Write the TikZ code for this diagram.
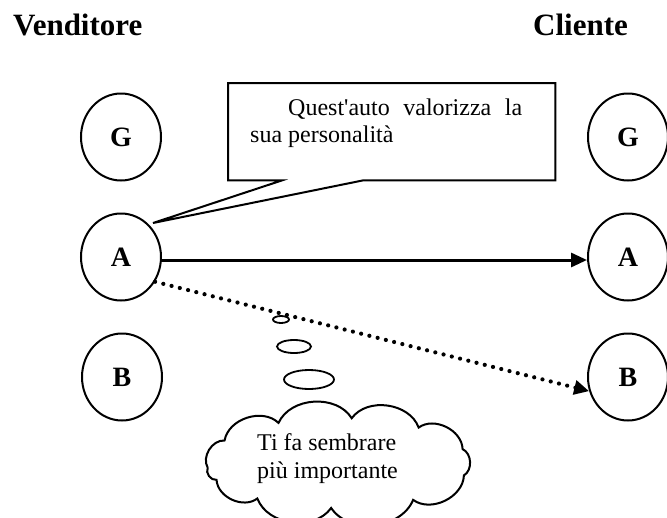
\documentclass[tikz,border=0pt]{standalone}
\usepackage{fontspec}
\setmainfont{Liberation Serif}
\usetikzlibrary{shapes.geometric,arrows.meta}

\begin{document}
\begin{tikzpicture}[x=1pt,y=-1pt,
  party/.style={draw,line width=2pt,ellipse,minimum width=80pt,minimum height=87pt,
    inner sep=0pt,font=\fontsize{28}{32}\selectfont\bfseries},
  sidetitle/.style={anchor=base west,inner sep=0pt,font=\fontsize{31}{36}\selectfont\bfseries},
  bodytext/.style={inner sep=0pt,font=\fontsize{24}{27}\selectfont},
  spoken/.style={line width=3pt,-{Triangle[length=16pt,width=14pt]}},
  implied/.style={line width=4.2pt,line cap=round,dash pattern=on 0pt off 8.5pt,
    -{Triangle[length=15pt,width=14pt]}},
  outline/.style={line width=2pt,line join=miter},
  bubble/.style={line width=1.8pt}
]
\useasboundingbox (0,0) rectangle (667,517);
\clip (0,0) rectangle (667,517);

% column headings
\node[sidetitle] (vend) at (13,35) {Venditore};
\node[sidetitle] (cli) at (533,35) {Cliente};

% ego states of the seller
\node[party] (vG) at (121,137) {G};
\node[party] (vA) at (121,257) {A};
\node[party] (vB) at (122,377) {B};

% ego states of the customer
\node[party] (cG) at (628,137) {G};
\node[party] (cA) at (628,257) {A};
\node[party] (cB) at (628,377) {B};

% open message: Adult to Adult
\draw[spoken] ([yshift=-3pt]vA.east) -- ([yshift=-3pt]cA.west);

% hidden message: Adult to Child
\draw[implied] (vA.-36) -- (cB.200);

% speech balloon
\node[minimum width=327pt,minimum height=97pt,anchor=north west,inner sep=0pt] (box) at (228,83) {};
\coordinate (tip) at (153,223);
\draw[outline,fill=white] (box.north west) -- (box.north east) -- (box.south east)
  -- ([xshift=135pt]box.south west) -- (tip) -- ([xshift=54pt]box.south west)
  -- (box.south west) -- cycle;
\node[bodytext,anchor=base west] (boxtext) at (250,115)
  {\parbox[t]{272pt}{\hspace*{38pt}Quest\textquotesingle auto valorizza la\linebreak sua personalità}};

% thought bubbles
\draw[bubble] (281,319.5) ellipse [x radius=8, y radius=3.5];
\draw[bubble] (294,346.5) ellipse [x radius=17, y radius=6.5];
\draw[bubble] (309,379.5) ellipse [x radius=25, y radius=9.5];

% thought cloud: puffs between points on an ellipse
\foreach \a [count=\i from 0] in {186,150,117,84,52,18,-16,-55,-93,-128,-158}
  \coordinate (puff\i) at ({338+131*cos(\a)},{463-45*sin(\a)});
\draw[line width=2pt,fill=white] (puff0)
  \foreach \i in {1,...,10}{ to[bend left=62] (puff\i) } to[bend left=62] (puff0);
\node[bodytext,anchor=base west] (thoughttext) at (257,450)
  {\parbox[t]{170pt}{\fontsize{24}{28}\selectfont Ti fa sembrare\\ più importante}};
\end{tikzpicture}
\end{document}
